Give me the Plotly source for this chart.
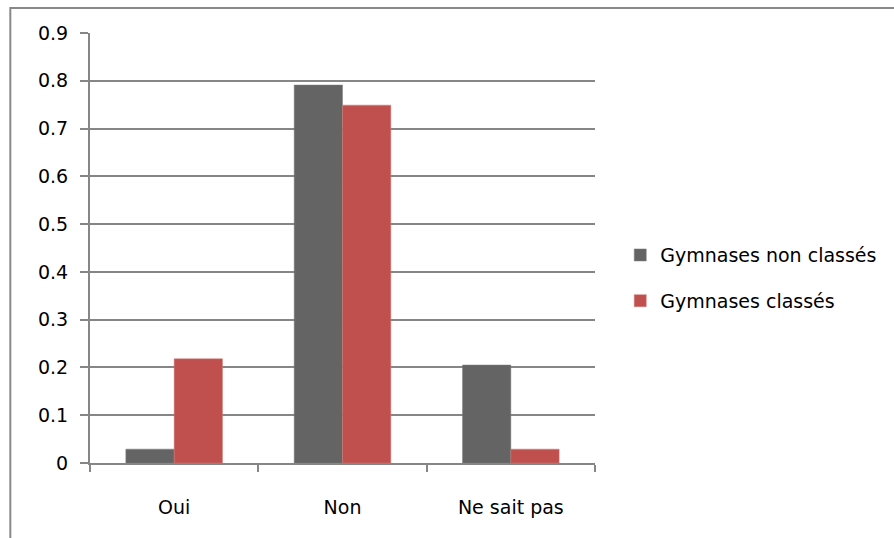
import plotly.graph_objects as go

categories = ["Oui", "Non", "Ne sait pas"]
non_classes = [0.029, 0.791, 0.205]
classes = [0.218, 0.749, 0.029]
series_names = ["Gymnases non classés", "Gymnases classés"]
y_ticks = [0, 0.1, 0.2, 0.3, 0.4, 0.5, 0.6, 0.7, 0.8, 0.9]

FONT = "DejaVu Sans"
AXIS = "#868686"

fig = go.Figure()
fig.add_trace(go.Bar(x=categories, y=non_classes, name=series_names[0],
                     marker=dict(color="#646464", line=dict(color="#7a7a7a", width=0.5)),
                     legendgroup="a"))
fig.add_trace(go.Bar(x=categories, y=classes, name=series_names[1],
                     marker=dict(color="#C0504D", line=dict(color="#d07a77", width=0.5)),
                     legendgroup="b"))

fig.update_layout(
    width=894, height=538,
    margin=dict(l=90, r=297, t=33, b=75),
    paper_bgcolor="white", plot_bgcolor="white",
    barmode="group", bargap=0.426, bargroupgap=0,
    font=dict(family=FONT, size=19, color="#000000"),
    showlegend=True,
    legend=dict(x=1.05, y=0.43, xanchor="left", yanchor="middle",
                tracegroupgap=18, font=dict(family=FONT, size=19),
                itemwidth=30),
    xaxis=dict(showline=True, linecolor=AXIS, linewidth=2,
               ticks="outside", tickson="boundaries", ticklen=7,
               tickcolor=AXIS, tickwidth=2, ticklabelstandoff=26,
               showgrid=False, zeroline=False),
    yaxis=dict(range=[0, 0.9], tickvals=y_ticks,
               showline=True, linecolor=AXIS, linewidth=2,
               ticks="outside", ticklen=8, tickcolor=AXIS, tickwidth=2,
               ticklabelstandoff=8,
               showgrid=True, gridcolor=AXIS, gridwidth=2, zeroline=False),
    shapes=[dict(type="rect", xref="paper", yref="paper",
                 x0=-80 / 507, x1=820 / 507, y0=-100 / 430, y1=455 / 430,
                 line=dict(color="#888888", width=2), fillcolor="rgba(0,0,0,0)",
                 layer="below")],
)

fig.write_html("out.html")
